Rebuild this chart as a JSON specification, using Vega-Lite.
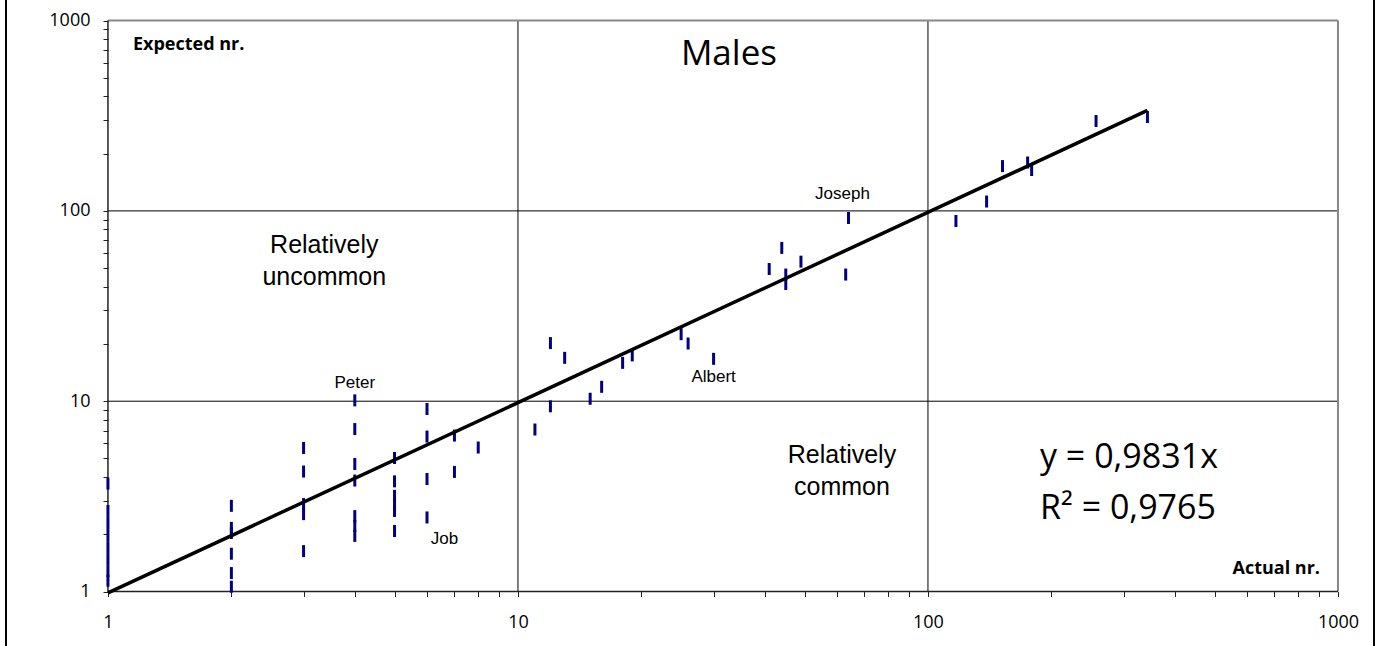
{
  "$schema": "https://vega.github.io/schema/vega-lite/v6.json",
  "width": 1368,
  "height": 646,
  "autosize": {"type": "none"},
  "padding": {"left": 6, "right": 6, "top": 0, "bottom": 0},
  "background": "white",
  "config": {
    "view": {"stroke": "black", "strokeWidth": 2, "strokeDash": [0, 1368, 646, 1368, 646, 0]},
    "axisX": {"orient": "bottom", "offset": -54.5, "labelPadding": 17},
    "axisY": {"orient": "left", "offset": -102, "labelPadding": 13},
    "axis": {
      "domain": false, "grid": false, "tickSize": 5, "tickColor": "#222222", "tickWidth": 1,
      "labelFont": "Open Sans", "labelFontSize": 18, "labelColor": "black",
      "labelOverlap": false, "labelFlush": false, "labelBound": false, "title": null
    }
  },
  "datasets": {
    "points": [
      {"x": 1, "y": 3.69}, {"x": 1, "y": 2.65}, {"x": 1, "y": 2.29}, {"x": 1, "y": 1.98}, {"x": 1, "y": 1.71}, {"x": 1, "y": 1.48}, {"x": 1, "y": 1.28}, {"x": 1, "y": 1.14},
      {"x": 2, "y": 2.82}, {"x": 2, "y": 2.16}, {"x": 2, "y": 2.03}, {"x": 2, "y": 1.58}, {"x": 2, "y": 1.25}, {"x": 2, "y": 1.06},
      {"x": 3, "y": 5.68}, {"x": 3, "y": 4.27}, {"x": 3, "y": 2.88}, {"x": 3, "y": 2.55}, {"x": 3, "y": 1.63},
      {"x": 4, "y": 10.1, "name": "Peter"}, {"x": 4, "y": 7.14}, {"x": 4, "y": 4.68}, {"x": 4, "y": 3.83}, {"x": 4, "y": 2.49}, {"x": 4, "y": 2.21}, {"x": 4, "y": 1.96},
      {"x": 5, "y": 5.03}, {"x": 5, "y": 3.79}, {"x": 5, "y": 3.18}, {"x": 5, "y": 2.88}, {"x": 5, "y": 2.65}, {"x": 5, "y": 2.08},
      {"x": 6, "y": 9.1}, {"x": 6, "y": 6.52}, {"x": 6, "y": 3.9}, {"x": 6, "y": 2.45, "name": "Job"},
      {"x": 7, "y": 6.6}, {"x": 7, "y": 4.25},
      {"x": 8, "y": 5.71},
      {"x": 11, "y": 7.1}, {"x": 12, "y": 20.2}, {"x": 12, "y": 9.4}, {"x": 13, "y": 16.9}, {"x": 15, "y": 10.3}, {"x": 16, "y": 11.9}, {"x": 18, "y": 15.9}, {"x": 19, "y": 17.4}, {"x": 25, "y": 22.5}, {"x": 26, "y": 20.1}, {"x": 30, "y": 16.7, "name": "Albert"},
      {"x": 41, "y": 49.5}, {"x": 44, "y": 63.9}, {"x": 45, "y": 46.3}, {"x": 45, "y": 41.3}, {"x": 49, "y": 54.1}, {"x": 63, "y": 46.3}, {"x": 64, "y": 91.8, "name": "Joseph"},
      {"x": 117, "y": 88.5}, {"x": 139, "y": 112}, {"x": 152, "y": 172}, {"x": 175, "y": 179.6}, {"x": 179, "y": 164}, {"x": 257, "y": 296.8}, {"x": 343, "y": 311.4}
    ],
    "trend": [{"x": 1, "y": 0.9831}, {"x": 343, "y": 337.2}],
    "grid": [{"g": 10}, {"g": 100}],
    "one": [{"k": 1}]
  },
  "layer": [
    {
      "data": {"name": "grid"},
      "mark": {"type": "rule", "color": "#000000", "strokeWidth": 1},
      "encoding": {
        "x": {"field": "g", "type": "quantitative", "scale": {"type": "log", "domain": [0.5641, 1224.2], "nice": false}, "axis": {"values": [1,2,3,4,5,6,7,8,9,10,20,30,40,50,60,70,80,90,100,200,300,400,500,600,700,800,900,1000], "format": "d", "labelExpr": "(datum.value == 1 || datum.value == 10 || datum.value == 100 || datum.value == 1000) ? datum.label : ''"}},
        "y": {"datum": 1, "type": "quantitative", "scale": {"type": "log", "domain": [0.5172, 1283], "nice": false}, "axis": {"values": [1,2,3,4,5,6,7,8,9,10,20,30,40,50,60,70,80,90,100,200,300,400,500,600,700,800,900,1000], "format": "d", "labelExpr": "(datum.value == 1 || datum.value == 10 || datum.value == 100 || datum.value == 1000) ? datum.label : ''"}},
        "y2": {"datum": 1000}
      }
    },
    {
      "data": {"name": "grid"},
      "mark": {"type": "rule", "color": "#000000", "strokeWidth": 1},
      "encoding": {
        "y": {"field": "g", "type": "quantitative", "scale": {"type": "log", "domain": [0.5172, 1283], "nice": false}, "axis": {"values": [1,2,3,4,5,6,7,8,9,10,20,30,40,50,60,70,80,90,100,200,300,400,500,600,700,800,900,1000], "format": "d", "labelExpr": "(datum.value == 1 || datum.value == 10 || datum.value == 100 || datum.value == 1000) ? datum.label : ''"}},
        "x": {"datum": 1, "type": "quantitative", "scale": {"type": "log", "domain": [0.5641, 1224.2], "nice": false}, "axis": {"values": [1,2,3,4,5,6,7,8,9,10,20,30,40,50,60,70,80,90,100,200,300,400,500,600,700,800,900,1000], "format": "d", "labelExpr": "(datum.value == 1 || datum.value == 10 || datum.value == 100 || datum.value == 1000) ? datum.label : ''"}},
        "x2": {"datum": 1000}
      }
    },
    {
      "data": {"name": "one"},
      "mark": {"type": "rule", "color": "#888888", "strokeWidth": 2},
      "encoding": {
        "x": {"datum": 1000, "type": "quantitative"},
        "y": {"datum": 1, "type": "quantitative"},
        "y2": {"datum": 1000}
      }
    },
    {
      "data": {"name": "one"},
      "mark": {"type": "rule", "color": "#888888", "strokeWidth": 2},
      "encoding": {
        "y": {"datum": 1000, "type": "quantitative"},
        "x": {"datum": 1, "type": "quantitative"},
        "x2": {"datum": 1000}
      }
    },
    {
      "data": {"name": "one"},
      "mark": {"type": "rule", "color": "#222222", "strokeWidth": 1.5},
      "encoding": {
        "x": {"datum": 1, "type": "quantitative"},
        "y": {"datum": 1, "type": "quantitative"},
        "y2": {"datum": 1000}
      }
    },
    {
      "data": {"name": "one"},
      "mark": {"type": "rule", "color": "#222222", "strokeWidth": 1.5},
      "encoding": {
        "y": {"datum": 1, "type": "quantitative"},
        "x": {"datum": 1, "type": "quantitative"},
        "x2": {"datum": 1000}
      }
    },
    {
      "data": {"name": "points"},
      "mark": {"type": "tick", "orient": "vertical", "color": "#000080", "thickness": 3, "size": 12, "opacity": 1},
      "encoding": {
        "x": {"field": "x", "type": "quantitative"},
        "y": {"field": "y", "type": "quantitative"}
      }
    },
    {
      "data": {"name": "trend"},
      "mark": {"type": "line", "color": "black", "strokeWidth": 3.5},
      "encoding": {
        "x": {"field": "x", "type": "quantitative"},
        "y": {"field": "y", "type": "quantitative"}
      }
    },
    {
      "data": {"name": "points"},
      "transform": [{"filter": "datum.name == 'Peter'"}],
      "mark": {"type": "text", "font": "Liberation Sans", "fontSize": 17, "color": "black", "align": "center", "baseline": "alphabetic", "dy": -12},
      "encoding": {
        "x": {"field": "x", "type": "quantitative"},
        "y": {"field": "y", "type": "quantitative"},
        "text": {"field": "name"}
      }
    },
    {
      "data": {"name": "points"},
      "transform": [{"filter": "datum.name == 'Joseph'"}],
      "mark": {"type": "text", "font": "Liberation Sans", "fontSize": 17, "color": "black", "align": "center", "baseline": "alphabetic", "dx": -6, "dy": -18.5},
      "encoding": {
        "x": {"field": "x", "type": "quantitative"},
        "y": {"field": "y", "type": "quantitative"},
        "text": {"field": "name"}
      }
    },
    {
      "data": {"name": "points"},
      "transform": [{"filter": "datum.name == 'Albert'"}],
      "mark": {"type": "text", "font": "Liberation Sans", "fontSize": 17, "color": "black", "align": "center", "baseline": "alphabetic", "dy": 23},
      "encoding": {
        "x": {"field": "x", "type": "quantitative"},
        "y": {"field": "y", "type": "quantitative"},
        "text": {"field": "name"}
      }
    },
    {
      "data": {"name": "points"},
      "transform": [{"filter": "datum.name == 'Job'"}],
      "mark": {"type": "text", "font": "Liberation Sans", "fontSize": 17, "color": "black", "align": "center", "baseline": "alphabetic", "dx": 17.5, "dy": 27},
      "encoding": {
        "x": {"field": "x", "type": "quantitative"},
        "y": {"field": "y", "type": "quantitative"},
        "text": {"field": "name"}
      }
    },
    {
      "data": {"name": "one"},
      "mark": {"type": "text", "text": "Males", "font": "Open Sans", "fontSize": 35, "color": "black", "align": "center", "baseline": "alphabetic"},
      "encoding": {
        "x": {"datum": 32.7, "type": "quantitative"},
        "y": {"datum": 584.6, "type": "quantitative"}
      }
    },
    {
      "data": {"name": "one"},
      "mark": {"type": "text", "text": "Expected nr.", "font": "Open Sans", "fontSize": 18, "fontWeight": "bold", "color": "black", "align": "left", "baseline": "alphabetic"},
      "encoding": {
        "x": {"datum": 1.151, "type": "quantitative"},
        "y": {"datum": 700.8, "type": "quantitative"}
      }
    },
    {
      "data": {"name": "one"},
      "mark": {"type": "text", "text": "Actual nr.", "font": "Open Sans", "fontSize": 18, "fontWeight": "bold", "color": "black", "align": "right", "baseline": "alphabetic"},
      "encoding": {
        "x": {"datum": 903.9, "type": "quantitative"},
        "y": {"datum": 1.236, "type": "quantitative"}
      }
    },
    {
      "data": {"name": "one"},
      "mark": {"type": "text", "text": ["Relatively", "uncommon"], "font": "Liberation Sans", "fontSize": 25, "lineHeight": 32, "color": "black", "align": "center", "baseline": "alphabetic"},
      "encoding": {
        "x": {"datum": 3.37, "type": "quantitative"},
        "y": {"datum": 59.9, "type": "quantitative"}
      }
    },
    {
      "data": {"name": "one"},
      "mark": {"type": "text", "text": ["Relatively", "common"], "font": "Liberation Sans", "fontSize": 25, "lineHeight": 32, "color": "black", "align": "center", "baseline": "alphabetic"},
      "encoding": {
        "x": {"datum": 61.7, "type": "quantitative"},
        "y": {"datum": 4.73, "type": "quantitative"}
      }
    },
    {
      "data": {"name": "one"},
      "mark": {"type": "text", "text": ["y = 0,9831x", "R² = 0,9765"], "font": "Open Sans", "fontSize": 34, "lineHeight": 51, "color": "black", "align": "left", "baseline": "alphabetic"},
      "encoding": {
        "x": {"datum": 187.6, "type": "quantitative"},
        "y": {"datum": 4.456, "type": "quantitative"}
      }
    }
  ]
}
